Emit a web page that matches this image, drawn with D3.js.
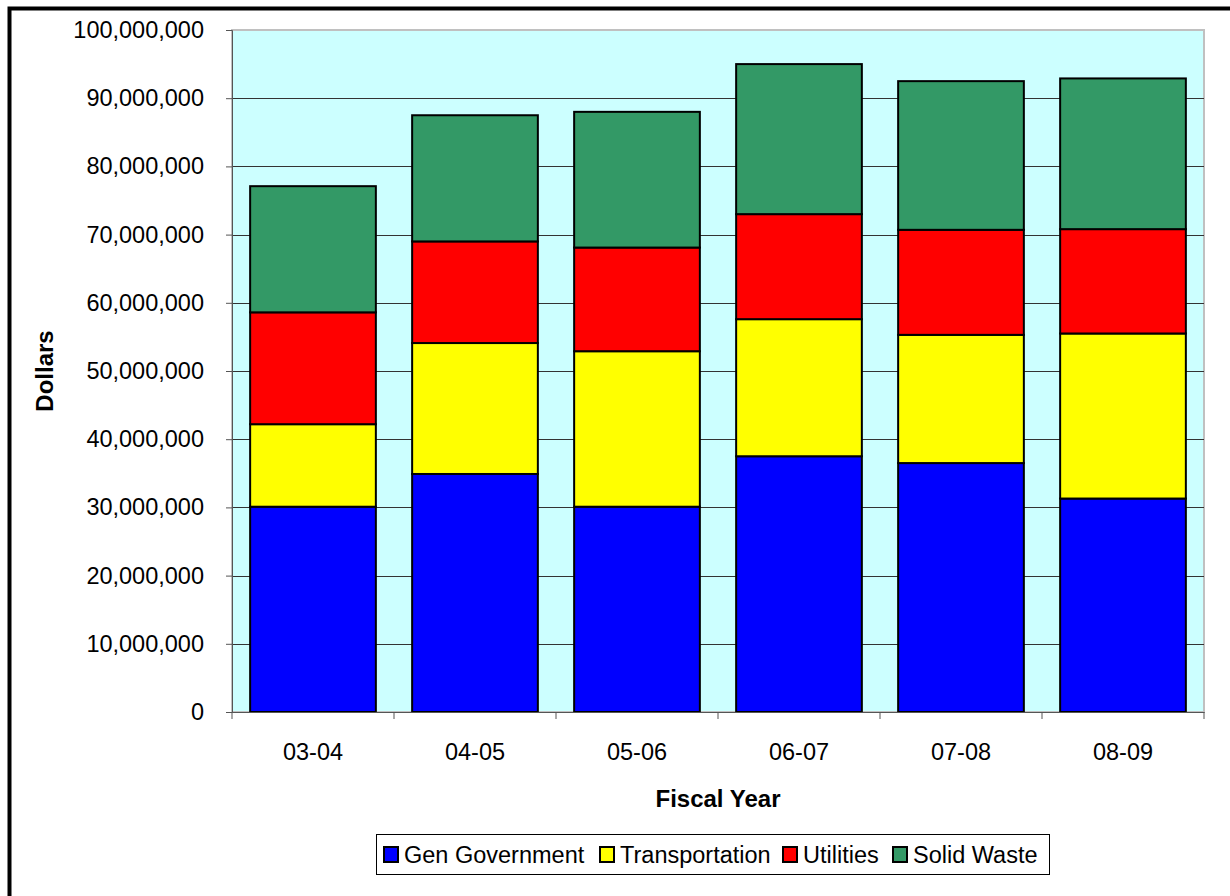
<!DOCTYPE html>
<html>
<head>
<meta charset="utf-8">
<script src="https://cdn.jsdelivr.net/npm/d3@7"></script>
<style>
  body { margin: 0; background: #fff; }
  svg { display: block; font-family: Arial, "Liberation Sans", sans-serif; }
</style>
</head>
<body>
<svg id="chart" width="1230" height="896"></svg>
<script>
// Chart data
var years = ["03-04", "04-05", "05-06", "06-07", "07-08", "08-09"];
var seriesNames = ["Gen Government", "Transportation", "Utilities", "Solid Waste"];
var seriesColors = ["#0000ff", "#ffff00", "#ff0000", "#339966"];

var genGovernment  = [30100000, 34900000, 30100000, 37500000, 36500000, 31300000];
var transportation = [12100000, 19200000, 22800000, 20100000, 18800000, 24200000];
var utilities      = [16400000, 14900000, 15200000, 15400000, 15400000, 15300000];
var solidWaste     = [18500000, 18500000, 19900000, 22000000, 21800000, 22100000];

var yTicks = [0, 10000000, 20000000, 30000000, 40000000, 50000000,
              60000000, 70000000, 80000000, 90000000, 100000000];

function drawChart() {
    var svg = d3.select("#chart");
    var fontSize = 23.5;

    // Outer frame (only top and left edges show in the picture)
    svg.append("rect")
        .attr("x", 9.5).attr("y", 8.5)
        .attr("width", 1300).attr("height", 1000)
        .attr("fill", "none").attr("stroke", "#000").attr("stroke-width", 4);

    var plotLeft = 232, plotRight = 1204, plotTop = 30, plotBottom = 712;

    var x = d3.scaleBand().domain(years).range([plotLeft, plotRight])
        .paddingInner(0.224).paddingOuter(0.112);
    var band = d3.scaleBand().domain(years).range([plotLeft, plotRight]);
    var y = d3.scaleLinear().domain([0, 100000000]).range([plotBottom, plotTop]);

    // Plot background
    svg.append("rect")
        .attr("x", plotLeft).attr("y", plotTop)
        .attr("width", plotRight - plotLeft).attr("height", plotBottom - plotTop)
        .attr("fill", "#ccffff").attr("stroke", "#c0c0c0").attr("stroke-width", 2);

    // Gridlines
    svg.append("g").selectAll("line")
        .data(yTicks.slice(1, -1))
        .join("line")
        .attr("x1", plotLeft).attr("x2", plotRight)
        .attr("y1", d => Math.round(y(d)) + 0.5).attr("y2", d => Math.round(y(d)) + 0.5)
        .attr("stroke", "#333").attr("stroke-width", 1);

    // Stack the series
    var rows = years.map((yr, i) => ({
        year: yr,
        "Gen Government": genGovernment[i],
        "Transportation": transportation[i],
        "Utilities": utilities[i],
        "Solid Waste": solidWaste[i]
    }));
    var stacked = d3.stack().keys(seriesNames)(rows);

    svg.append("g").selectAll("g")
        .data(stacked)
        .join("g")
        .attr("fill", (d, i) => seriesColors[i])
        .selectAll("rect")
        .data(d => d)
        .join("rect")
        .attr("x", d => x(d.data.year))
        .attr("y", d => y(d[1]))
        .attr("width", x.bandwidth())
        .attr("height", d => y(d[0]) - y(d[1]))
        .attr("stroke", "#000").attr("stroke-width", 2);

    // Y axis
    var yAxis = svg.append("g")
        .attr("transform", `translate(${plotLeft},0)`)
        .call(d3.axisLeft(y).tickValues(yTicks).tickSize(6).tickPadding(22)
            .tickFormat(d3.format(",")));
    yAxis.selectAll("text").attr("font-size", fontSize).attr("fill", "#000")
        .attr("font-family", "Arial, 'Liberation Sans', sans-serif");
    yAxis.selectAll("line").attr("stroke", "#555");
    yAxis.select(".domain").attr("stroke", "#555");

    // X axis
    var xAxis = svg.append("g")
        .attr("transform", `translate(0,${plotBottom})`)
        .call(d3.axisBottom(band).tickSize(0).tickPadding(31));
    xAxis.selectAll("text").attr("font-size", fontSize).attr("fill", "#000")
        .attr("font-family", "Arial, 'Liberation Sans', sans-serif");
    xAxis.select(".domain").attr("stroke", "#555");
    xAxis.append("g").selectAll("line")
        .data(d3.range(years.length + 1))
        .join("line")
        .attr("x1", i => plotLeft + i * band.step()).attr("x2", i => plotLeft + i * band.step())
        .attr("y1", 0).attr("y2", 7)
        .attr("stroke", "#555");

    // Axis titles
    svg.append("text")
        .attr("x", (plotLeft + plotRight) / 2).attr("y", 807)
        .attr("text-anchor", "middle")
        .attr("font-size", 24).attr("font-weight", "bold")
        .text("Fiscal Year");

    svg.append("text")
        .attr("transform", "translate(53,371) rotate(-90)")
        .attr("text-anchor", "middle")
        .attr("font-size", 24).attr("font-weight", "bold")
        .text("Dollars");

    // Legend
    var legend = svg.append("g");
    legend.append("rect")
        .attr("x", 376.5).attr("y", 834.5)
        .attr("width", 673).attr("height", 40)
        .attr("fill", "#fff").attr("stroke", "#000").attr("stroke-width", 1);

    var legendX = [384, 600, 783, 893];
    var items = legend.selectAll("g.item")
        .data(seriesNames)
        .join("g")
        .attr("class", "item")
        .attr("transform", (d, i) => `translate(${legendX[i]},847)`);
    items.append("rect")
        .attr("width", 14).attr("height", 15)
        .attr("fill", (d, i) => seriesColors[i])
        .attr("stroke", "#000").attr("stroke-width", 2);
    items.append("text")
        .attr("x", 20).attr("y", 16)
        .attr("font-size", fontSize)
        .text(d => d);
}

drawChart();
</script>
</body>
</html>
